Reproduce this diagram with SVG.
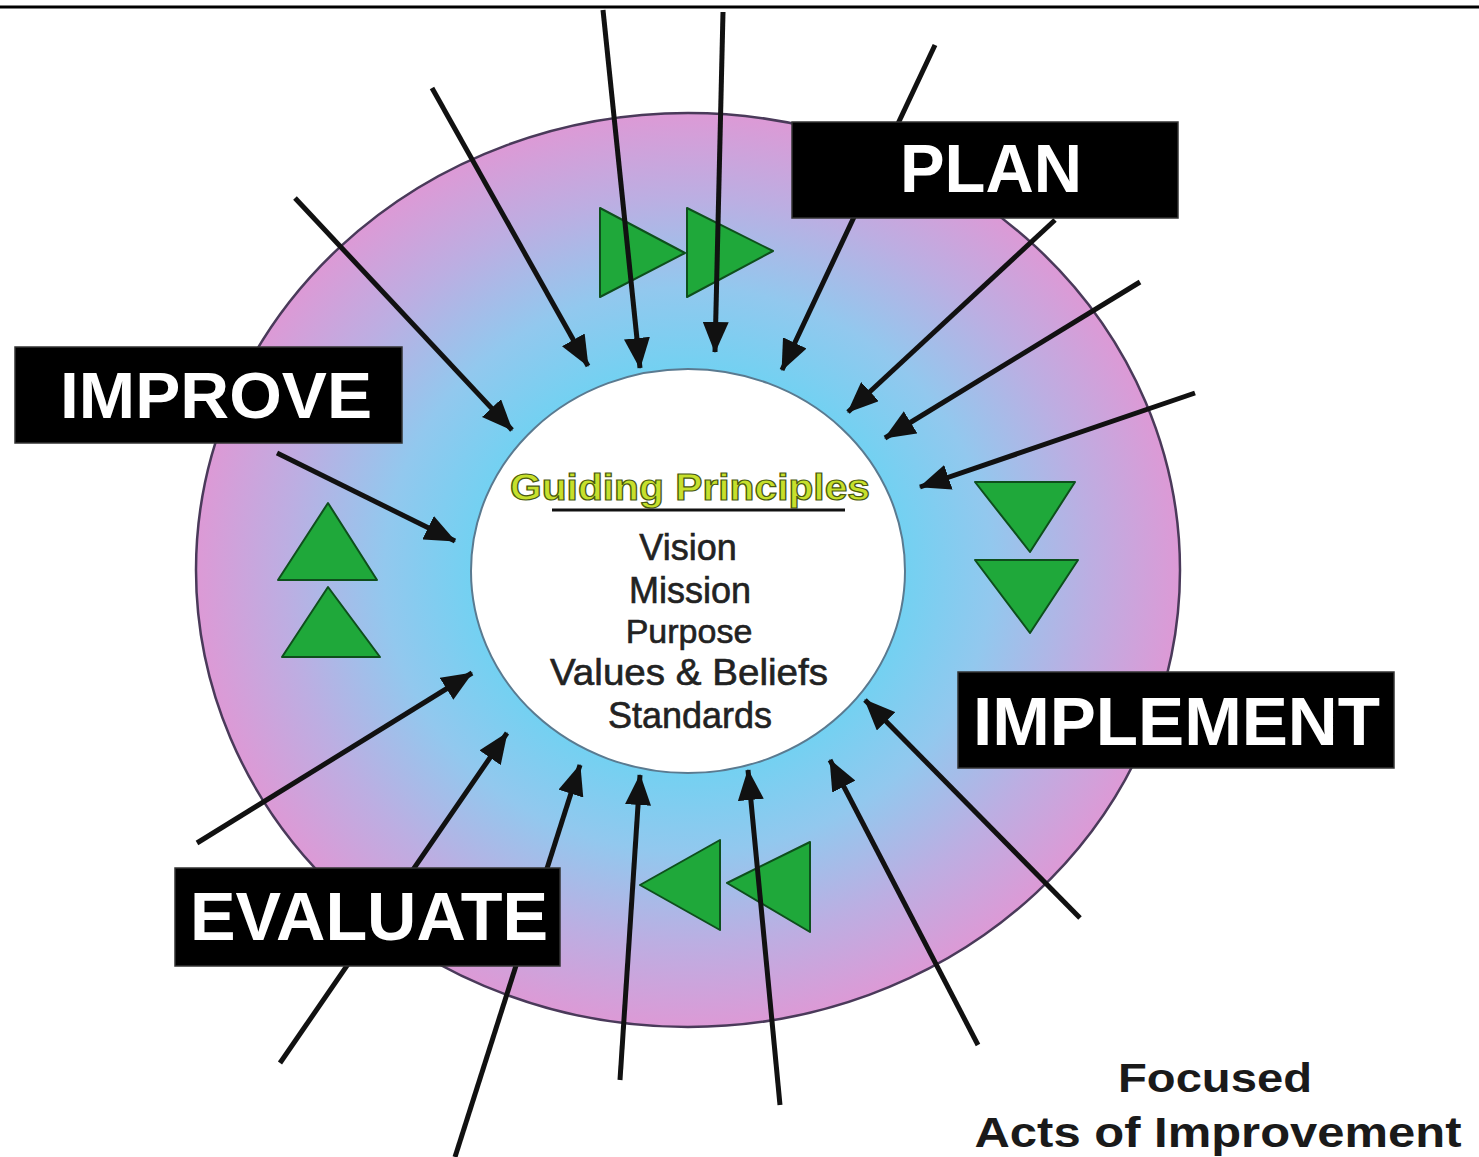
<svg xmlns="http://www.w3.org/2000/svg" width="1479" height="1157" viewBox="0 0 1479 1157">
<style>
.conn line{stroke:#111;stroke-width:5;marker-end:url(#ah)}
.lbl rect{fill:#000;stroke:#333;stroke-width:1.5}
.lbl text{fill:#fff;font-family:"Liberation Sans",Arial,sans-serif;font-weight:bold;text-anchor:start}
.tri{fill:#1fa83a;stroke:#0e4f1c;stroke-width:2;stroke-linejoin:round}
.gp{font-family:"Liberation Sans",Arial,sans-serif;fill:#222;stroke:#222;stroke-width:0.6;text-anchor:middle}
.foot{font-family:"Liberation Sans",Arial,sans-serif;font-weight:bold;fill:#1a1a1a;text-anchor:middle}
</style>
<defs>
<radialGradient id="ring" cx="688" cy="570" r="490" gradientUnits="userSpaceOnUse" gradientTransform="translate(688 570) scale(1 0.93) translate(-688 -570)">
<stop offset="0.42" stop-color="#6fd2f2"/>
<stop offset="0.62" stop-color="#92c8ee"/>
<stop offset="0.82" stop-color="#bcaee2"/>
<stop offset="1" stop-color="#dc9ad6"/>
</radialGradient>
<marker id="ah" markerUnits="userSpaceOnUse" markerWidth="32" markerHeight="26" refX="30" refY="13" orient="auto">
<path d="M0,0 L31,13 L0,26 z" fill="#111"/>
</marker>
</defs>
<rect width="1479" height="1157" fill="#fff"/>
<line x1="0" y1="7" x2="1479" y2="7" stroke="#000" stroke-width="3"/>

<g id="ring-node">
<ellipse cx="688" cy="570" rx="492" ry="457" fill="url(#ring)" stroke="#4a3a5a" stroke-width="2.5"/>
</g>

<g id="center-node">
<ellipse cx="688" cy="571" rx="217" ry="202" fill="#fff" stroke="#5a7a90" stroke-width="2"/>
<text x="690" y="500" font-family="Liberation Sans, Arial, sans-serif" font-weight="bold" font-size="36" fill="#c6e02c" stroke="#4a5a10" stroke-width="1.2" text-anchor="middle" textLength="360" lengthAdjust="spacingAndGlyphs">Guiding Principles</text>
<line x1="552" y1="510" x2="845" y2="510" stroke="#111" stroke-width="3"/>
<text class="gp" x="688" y="560" font-size="36">Vision</text>
<text class="gp" x="690" y="603" font-size="36" stroke-width="1.2">Mission</text>
<text class="gp" x="689" y="643" font-size="34">Purpose</text>
<text class="gp" x="689" y="685" font-size="36" textLength="278" lengthAdjust="spacingAndGlyphs">Values &amp; Beliefs</text>
<text class="gp" x="690" y="728" font-size="36">Standards</text>
</g>

<g id="cycle-arrows">
<polygon class="tri" points="600,208 685,253 600,297"/>
<polygon class="tri" points="687,208 773,251 687,297"/>
<polygon class="tri" points="975,482 1075,482 1030,552"/>
<polygon class="tri" points="975,560 1078,560 1030,633"/>
<polygon class="tri" points="720,840 640,885 720,930"/>
<polygon class="tri" points="810,842 727,883 810,932"/>
<polygon class="tri" points="328,503 377,580 278,580"/>
<polygon class="tri" points="328,587 380,657 282,657"/>
</g>

<g id="connectors" class="conn">
<line x1="432" y1="88" x2="588" y2="366"/>
<line x1="603" y1="10" x2="640" y2="368"/>
<line x1="723" y1="12" x2="715" y2="352"/>
<line x1="935" y1="45" x2="782" y2="370"/>
<line x1="1055" y1="220" x2="848" y2="412"/>
<line x1="1140" y1="282" x2="885" y2="438"/>
<line x1="1195" y1="393" x2="920" y2="487"/>
<line x1="295" y1="198" x2="512" y2="430"/>
<line x1="277" y1="453" x2="455" y2="541"/>
<line x1="197" y1="843" x2="472" y2="673"/>
<line x1="280" y1="1063" x2="507" y2="733"/>
<line x1="455" y1="1157" x2="580" y2="765"/>
<line x1="620" y1="1080" x2="640" y2="775"/>
<line x1="780" y1="1105" x2="748" y2="770"/>
<line x1="978" y1="1045" x2="830" y2="760"/>
<line x1="1080" y1="918" x2="865" y2="700"/>
</g>

<g id="plan" class="lbl">
<rect x="792" y="122" width="386" height="96"/>
<text x="900" y="192" font-size="68" textLength="182" lengthAdjust="spacingAndGlyphs">PLAN</text>
</g>
<g id="improve" class="lbl">
<rect x="15" y="347" width="387" height="96"/>
<text x="60" y="418" font-size="64" textLength="312" lengthAdjust="spacingAndGlyphs">IMPROVE</text>
</g>
<g id="implement" class="lbl">
<rect x="958" y="672" width="436" height="96"/>
<text x="973" y="745" font-size="69" textLength="407" lengthAdjust="spacingAndGlyphs">IMPLEMENT</text>
</g>
<g id="evaluate" class="lbl">
<rect x="175" y="868" width="385" height="98"/>
<text x="190" y="940" font-size="69" textLength="358" lengthAdjust="spacingAndGlyphs">EVALUATE</text>
</g>

<g id="caption">
<text class="foot" x="1215" y="1092" font-size="40" textLength="194" lengthAdjust="spacingAndGlyphs">Focused</text>
<text class="foot" x="1218" y="1147" font-size="43" textLength="487" lengthAdjust="spacingAndGlyphs">Acts of Improvement</text>
</g>
</svg>
